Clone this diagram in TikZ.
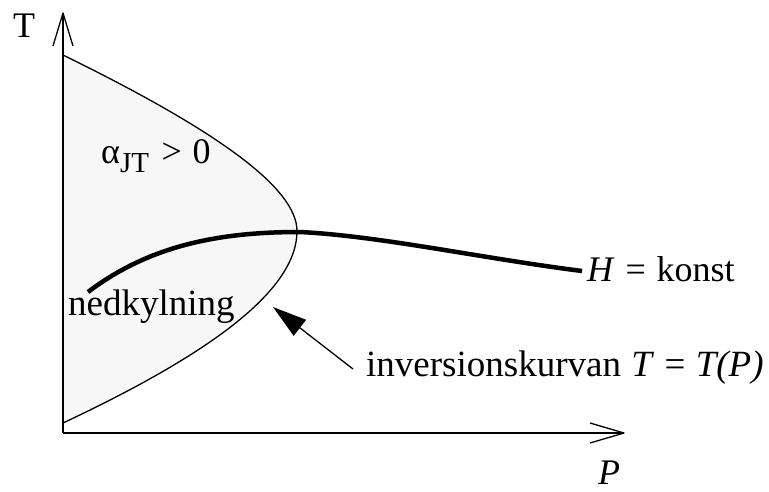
\documentclass[tikz,border=0pt]{standalone}
\usepackage{fontspec}
\setmainfont{Liberation Serif}
\usetikzlibrary{arrows.meta,calc}
\definecolor{regiongray}{RGB}{247,247,247}
\tikzset{
  lbl/.style={inner sep=0pt, anchor=base west, font=\fontsize{36}{40}\selectfont},
  thinline/.style={line width=1.3pt, line join=round},
  isenth/.style={line width=4.5pt},
  pointer/.style={line width=1.3pt, -{Triangle[length=34pt,width=20pt]}}
}
\begin{document}
\begin{tikzpicture}[x=1pt,y=-1pt]
\useasboundingbox (0,0) rectangle (769,491);
% key points
\coordinate (O) at (63,433);
\coordinate (ytip) at (63,13);
\coordinate (xtip) at (624,433);
\coordinate (top) at (63,55);
\coordinate (vertex) at (297,231);
\coordinate (bot) at (63,423);
% shaded region and inversion curve
\fill[regiongray] (top) .. controls (213,128.5) and (297,187) .. (vertex)
   .. controls (297,289.5) and (213,352.5) .. (bot) -- cycle;
\draw[thinline] (top) .. controls (213,128.5) and (297,187) .. (vertex)
   .. controls (297,289.5) and (213,352.5) .. (bot);
% axes
\draw[thinline] (O) -- (ytip);
\draw[thinline] ($(ytip)+(-10,33)$) -- (ytip) -- ($(ytip)+(10,33)$);
\draw[thinline] (O) -- (xtip);
\draw[thinline] ($(xtip)+(-34,-10)$) -- (xtip) -- ($(xtip)+(-34,10)$);
% labels
\node[lbl] (Tlab) at (13,37) {T};
\node[lbl] (Plab) at (598,484) {\textit{P}};
\node[lbl] (alpha) at (101,163) {α\raisebox{-9pt}{\fontsize{29}{32}\selectfont JT}\hspace{0.35em}>\hspace{0.3em}0};
\node[lbl] (ned) at (68,315) {\fontsize{37}{40}\selectfont nedkylning};
\node[lbl] (Hlab) at (587,281) {\textit{H}\hspace{0.3em}=\hspace{0.3em}konst};
\node[lbl] (inv) at (366,376) {\fontsize{37}{40}\selectfont inversionskurvan\hspace{0.28em}\textit{T}\hspace{0.28em}=\hspace{0.28em}\textit{T(P)}};
% isenthalp
\coordinate (hstart) at (88,292);
\coordinate (hpeak) at (300,232);
\coordinate (hend) at (582,271);
\draw[isenth] (hstart) .. controls (150,245) and (220,232) .. (hpeak)
   .. controls (380,236) and (480,258) .. (hend);
% pointer arrow
\coordinate (ptail) at (353,369);
\coordinate (phead) at (273,307);
\draw[pointer] (ptail) -- (phead);
\end{tikzpicture}
\end{document}
